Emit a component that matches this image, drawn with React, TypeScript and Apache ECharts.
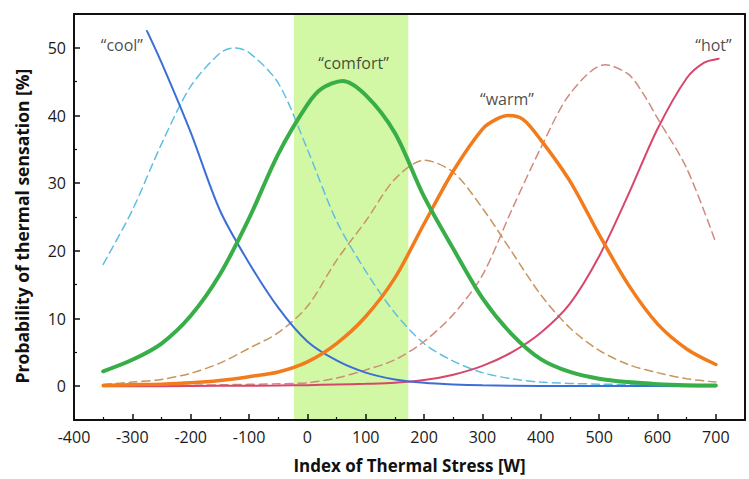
import React, { useEffect, useRef } from "react";
import * as echarts from "echarts";

// ---- data (x = Index of Thermal Stress [W], y = probability [%]) ----
const coolSolid: number[][] = [[-275, 52.5], [-250, 47.8], [-200, 37.5], [-150, 26], [-100, 18.2], [-50, 11.6], [0, 6.6], [50, 3.8], [100, 2.0], [150, 1.0], [200, 0.5], [250, 0.25], [300, 0.12], [400, 0.04], [500, 0.02], [600, 0.01], [700, 0]];
const coolDashed: number[][] = [[-350, 18], [-300, 26], [-250, 35.8], [-200, 44.3], [-150, 49.2], [-125, 50], [-100, 49.3], [-50, 44.8], [0, 35], [50, 24.4], [100, 17], [150, 10.8], [200, 6.3], [250, 3.7], [300, 2.0], [350, 1.1], [400, 0.6], [500, 0.3], [600, 0.22], [700, 0.2]];
const comfortSolid: number[][] = [[-350, 2.2], [-300, 3.9], [-250, 6.3], [-200, 10.4], [-150, 16.5], [-100, 24.8], [-50, 34.3], [0, 41.6], [25, 44], [60, 45.1], [100, 43], [150, 37.4], [200, 28], [250, 20.3], [300, 13], [350, 7.7], [400, 4.0], [450, 2.1], [500, 1.1], [550, 0.6], [600, 0.3], [650, 0.15], [700, 0.1]];
const warmDashed: number[][] = [[-350, 0.25], [-300, 0.6], [-250, 1.0], [-200, 1.9], [-150, 3.4], [-100, 5.6], [-50, 7.9], [0, 11.8], [50, 18.6], [100, 24.4], [150, 30.6], [200, 33.4], [250, 31.6], [300, 26.3], [350, 19.9], [400, 13.5], [450, 8.6], [500, 5.3], [550, 3.2], [600, 2.0], [650, 1.1], [700, 0.6]];
const warmSolid: number[][] = [[-350, 0.1], [-300, 0.2], [-250, 0.3], [-200, 0.5], [-150, 0.85], [-100, 1.4], [-50, 2.1], [0, 3.6], [50, 6.3], [100, 10.3], [150, 16], [200, 24], [250, 31.8], [300, 38], [325, 39.5], [345, 40], [370, 39.4], [400, 36.4], [450, 30.3], [500, 22.4], [550, 15], [600, 9.2], [650, 5.5], [700, 3.2]];
const hotDashed: number[][] = [[-350, 0.05], [-250, 0.1], [-150, 0.2], [-50, 0.35], [0, 0.5], [50, 1.2], [100, 2.4], [150, 3.9], [200, 6.6], [250, 10.6], [300, 16.4], [350, 26], [400, 35.2], [450, 43.2], [510, 47.5], [550, 46.1], [575, 43.3], [600, 39.6], [650, 32.2], [700, 21.2]];
const hotSolid: number[][] = [[-350, 0], [-250, 0], [-150, 0.05], [-50, 0.1], [0, 0.15], [50, 0.25], [100, 0.35], [150, 0.5], [200, 0.9], [250, 1.7], [300, 3.0], [350, 5.0], [400, 7.9], [450, 12.2], [500, 19.2], [550, 28.3], [600, 38], [650, 45.5], [680, 47.8], [705, 48.4]];

const comfortBand = [-23, 173];

const annotationTexts = ["\u201Ccool\u201D", "\u201Ccomfort\u201D", "\u201Cwarm\u201D", "\u201Chot\u201D"];
const annotationX = [-318, 79, 342, 696];
const annotationY = [50.4, 47.7, 42.5, 50.4];

const xMajorTicks = [-400, -300, -200, -100, 0, 100, 200, 300, 400, 500, 600, 700];
const xMinorTicks = [-350, -250, -150, -50, 50, 150, 250, 350, 450, 550, 650];
const yMajorTicks = [0, 10, 20, 30, 40, 50];
const yMinorTicks = [5, 15, 25, 35, 45];

const xTitle = "Index of Thermal Stress [W]";
const yTitle = "Probability of thermal sensation [%]";

export default function App() {
  const ref = useRef<HTMLDivElement>(null);
  useEffect(() => {
    const chart = echarts.init(ref.current!, null, { renderer: "svg" });
    const font = "'Open Sans', 'Noto Sans', sans-serif";
    const axisLineStyle = { color: "#111", width: 2 };
    const mk = (name: string, data: number[][], color: string, width: number, dashed: boolean) => ({
      type: "line",
      name,
      data,
      symbol: "none",
      showSymbol: false,
      smooth: 0.3,
      silent: true,
      z: 3,
      lineStyle: { color, width, type: dashed ? [8, 5] : "solid", cap: "round" },
    });
    const xBase = { type: "value", min: -400, max: 750, splitLine: { show: false }, z: 6 };
    const yBase = { type: "value", min: -5, max: 55, splitLine: { show: false }, z: 6 };
    chart.setOption({
      animation: false,
      backgroundColor: "#fff",
      grid: { left: 74, right: 4, top: 14, bottom: 57 },
      xAxis: [
        {
          ...xBase,
          position: "bottom",
          axisLine: { show: true, onZero: false, lineStyle: axisLineStyle },
          axisTick: { show: true, inside: true, length: 6, customValues: xMajorTicks, lineStyle: { color: "#111", width: 1.5 } },
          axisLabel: { customValues: xMajorTicks, fontSize: 16, color: "#1a1a1a", fontFamily: font, margin: 9 },
          name: xTitle,
          nameLocation: "middle",
          nameGap: 37,
          nameTextStyle: { fontWeight: "bold", fontSize: 17, color: "#111", fontFamily: font },
        },
        {
          ...xBase,
          position: "bottom",
          axisLine: { show: false, onZero: false },
          axisTick: { show: true, inside: true, length: 3, customValues: xMinorTicks, lineStyle: { color: "#111", width: 1.2 } },
          axisLabel: { show: false },
        },
        {
          ...xBase,
          position: "top",
          axisLine: { show: true, onZero: false, lineStyle: axisLineStyle },
          axisTick: { show: false },
          axisLabel: { show: false },
        },
      ],
      yAxis: [
        {
          ...yBase,
          position: "left",
          axisLine: { show: true, onZero: false, lineStyle: axisLineStyle },
          axisTick: { show: true, inside: true, length: 6, customValues: yMajorTicks, lineStyle: { color: "#111", width: 1.5 } },
          axisLabel: { customValues: yMajorTicks, fontSize: 16, color: "#1a1a1a", fontFamily: font, margin: 8 },
          name: yTitle,
          nameLocation: "middle",
          nameGap: 43,
          nameRotate: 90,
          nameTextStyle: { fontWeight: "bold", fontSize: 17.5, color: "#111", fontFamily: font, padding: [0, 18, 0, 0] },
        },
        {
          ...yBase,
          position: "left",
          axisLine: { show: false, onZero: false },
          axisTick: { show: true, inside: true, length: 3, customValues: yMinorTicks, lineStyle: { color: "#111", width: 1.2 } },
          axisLabel: { show: false },
        },
        {
          ...yBase,
          position: "right",
          axisLine: { show: true, onZero: false, lineStyle: axisLineStyle },
          axisTick: { show: false },
          axisLabel: { show: false },
        },
      ],
      series: [
        {
          type: "line",
          name: "band",
          data: [[comfortBand[0], -10]],
          symbol: "none",
          showSymbol: false,
          lineStyle: { opacity: 0 },
          silent: true,
          z: 1,
          markArea: {
            silent: true,
            itemStyle: { color: "#d3f8a5" },
            data: [[{ xAxis: comfortBand[0] }, { xAxis: comfortBand[1] }]],
          },
        },
        mk("cool dashed", coolDashed, "#5fbfe2", 1.5, true),
        mk("warm dashed", warmDashed, "#c9955f", 1.5, true),
        mk("hot dashed", hotDashed, "#d08a7e", 1.5, true),
        mk("hot", hotSolid, "#d8466b", 2, false),
        mk("cool", coolSolid, "#3b6fd6", 2, false),
        mk("warm", warmSolid, "#f27c1c", 3.5, false),
        mk("comfort", comfortSolid, "#38ae48", 4, false),
        {
          type: "scatter",
          name: "labels",
          symbolSize: 0,
          silent: true,
          z: 4,
          data: annotationTexts.map((t, i) => ({ name: t, value: [annotationX[i], annotationY[i]] })),
          label: {
            show: true,
            position: "inside",
            formatter: "{b}",
            fontSize: 16,
            color: "#1a1a1a",
            fontFamily: font,
          },
        },
      ],
    });
    return () => chart.dispose();
  }, []);
  return <div ref={ref} style={{ position: "absolute", left: 0, top: 0, width: 749, height: 479 }} />;
}
